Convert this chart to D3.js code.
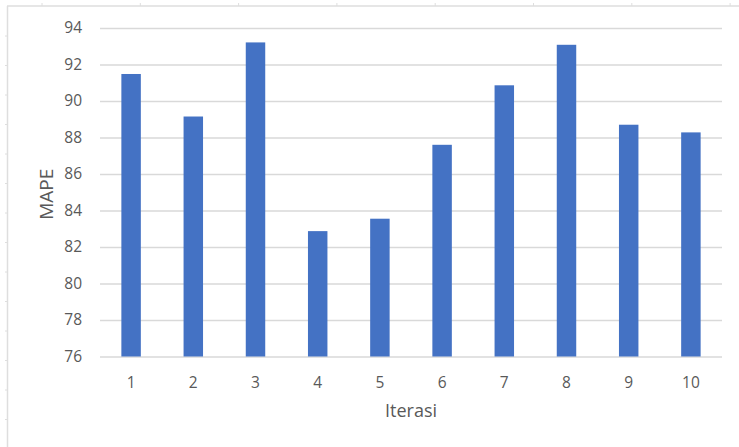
<!DOCTYPE html>
<html>
<head>
<meta charset="utf-8">
<script src="https://cdn.jsdelivr.net/npm/d3@7"></script>
<style>
  html, body { margin: 0; padding: 0; background: #fff; }
  svg { display: block; }
  text { font-family: "Open Sans", "Noto Sans", sans-serif; fill: #595959; }
</style>
</head>
<body>
<svg id="chart" width="739" height="447"></svg>
<script>
// Iteration numbers and the MAPE measured for each one
const iterations = ["1", "2", "3", "4", "5", "6", "7", "8", "9", "10"];
const mape = [91.48, 89.15, 93.21, 82.87, 83.55, 87.6, 90.86, 93.08, 88.7, 88.28];
const yTicks = [76, 78, 80, 82, 84, 86, 88, 90, 92, 94];
const xTitle = "Iterasi";
const yTitle = "MAPE";

const W = 739, H = 447;
const plot = { left: 100, right: 722, top: 28, bottom: 356.5 };

const svg = d3.select("#chart");

// Worksheet frame behind the chart: top and left rulers with cell marks
const sheet = svg.append("g").attr("stroke", "#dedede").attr("fill", "none");
sheet.append("line").attr("x1", 7).attr("x2", W).attr("y1", 6).attr("y2", 6).attr("stroke-width", 1.5);
sheet.append("line").attr("x1", 7.5).attr("x2", 7.5).attr("y1", 6).attr("y2", H).attr("stroke-width", 1.5);
const colMarks = d3.range(0, 8).map(i => 42 + i * 98.3);
const rowMarks = d3.range(0, 15).map(i => 36 + i * 29.5);
sheet.selectAll("line.col").data(colMarks).join("line")
  .attr("class", "col").attr("x1", d => d).attr("x2", d => d).attr("y1", 3).attr("y2", 6);
sheet.selectAll("line.row").data(rowMarks).join("line")
  .attr("class", "row").attr("x1", 5).attr("x2", 7.5).attr("y1", d => d).attr("y2", d => d);

// Scales
const x = d3.scaleBand().domain(iterations).range([plot.left, plot.right]).paddingInner(0.687).paddingOuter(0.3435);
const y = d3.scaleLinear().domain([76, 94]).range([plot.bottom, plot.top]);

// Horizontal gridlines with value labels
const yAxis = d3.axisLeft(y).tickValues(yTicks).tickSize(-(plot.right - plot.left)).tickPadding(18).tickFormat(d3.format("d"));
const gy = svg.append("g").attr("transform", `translate(${plot.left},0)`).call(yAxis);
gy.select(".domain").remove();
gy.selectAll(".tick line").attr("stroke", "#d9d9d9").attr("stroke-width", 1.3);
gy.selectAll(".tick text").attr("fill", "#595959").style("font-size", "15.5px")
  .style("font-family", "'Open Sans', 'Noto Sans', sans-serif");

// Bars
svg.append("g").selectAll("rect").data(mape).join("rect")
  .attr("x", (d, i) => x(iterations[i]))
  .attr("width", x.bandwidth())
  .attr("y", d => y(d))
  .attr("height", d => y(76) - y(d))
  .attr("fill", "#4472c4");

// Category labels
const xAxis = d3.axisBottom(x).tickSize(0).tickPadding(20);
const gx = svg.append("g").attr("transform", `translate(0,${plot.bottom})`).call(xAxis);
gx.select(".domain").remove();
gx.selectAll(".tick text").attr("fill", "#595959").style("font-size", "15.5px")
  .style("font-family", "'Open Sans', 'Noto Sans', sans-serif");

// Axis titles
svg.append("text").attr("x", (plot.left + plot.right) / 2).attr("y", 417)
  .attr("text-anchor", "middle").style("font-size", "18px").text(xTitle);
svg.append("text").attr("transform", `translate(53,${(plot.top + plot.bottom) / 2 + 2}) rotate(-90)`)
  .attr("text-anchor", "middle").style("font-size", "19px").text(yTitle);
</script>
</body>
</html>
